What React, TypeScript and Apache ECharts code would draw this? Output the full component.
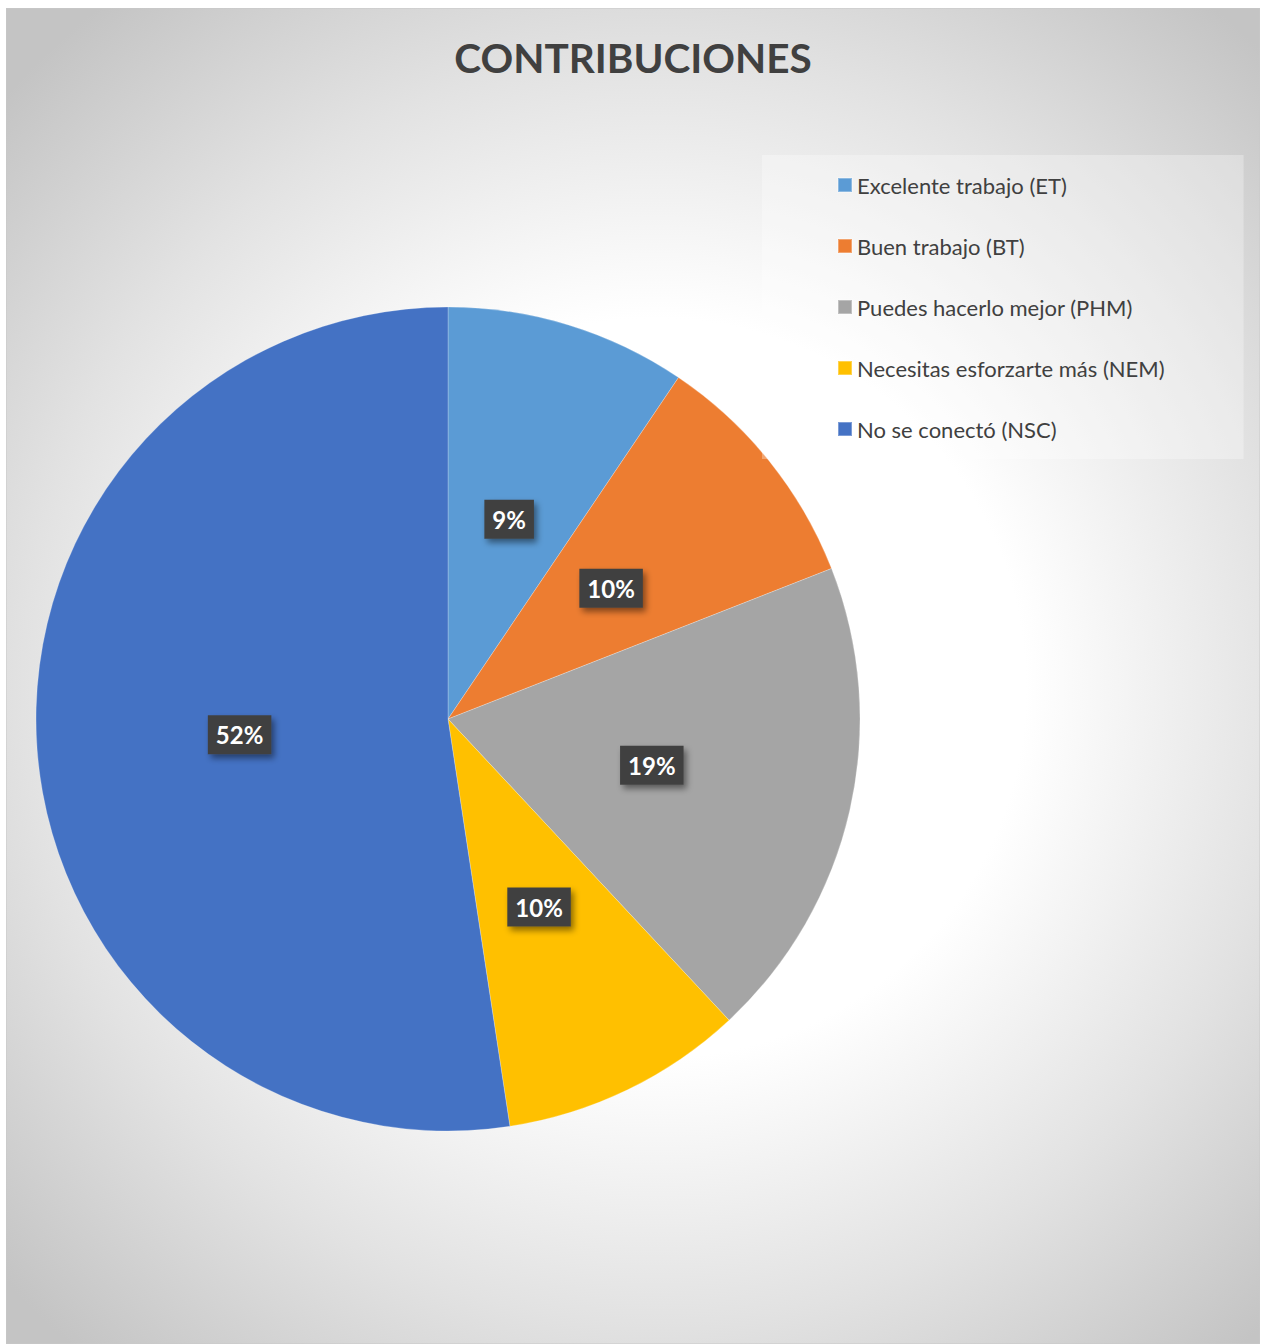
import React, { useEffect, useRef } from "react";
import * as echarts from "echarts";

const titleText = "CONTRIBUCIONES";
const categories = [
  "Excelente trabajo (ET)",
  "Buen trabajo (BT)",
  "Puedes hacerlo mejor (PHM)",
  "Necesitas esforzarte más (NEM)",
  "No se conectó (NSC)",
];
const values = [9.45, 9.6, 19.0, 9.55, 52.4];
const colors = ["#5B9BD5", "#ED7D31", "#A5A5A5", "#FFC000", "#4472C4"];

const W = 1254;
const H = 1336;
const FONT = "Lato, 'Open Sans', sans-serif";

export default function App() {
  const ref = useRef<HTMLDivElement>(null);
  useEffect(() => {
    document.body.style.margin = "0";
    if (!ref.current) return;
    const chart = echarts.init(ref.current, null, { renderer: "svg" });
    chart.setOption({
      animation: false,
      graphic: [
        {
          type: "rect",
          z: -10,
          silent: true,
          shape: { x: 0, y: 0, width: W, height: H },
          style: {
            fill: {
              type: "radial",
              x: 650,
              y: 680,
              r: 880,
              global: true,
              colorStops: [
                { offset: 0, color: "#ffffff" },
                { offset: 0.42, color: "#ffffff" },
                { offset: 0.72, color: "#e2e2e2" },
                { offset: 1, color: "#c4c4c4" },
              ],
            },
            stroke: "#c8c8c8",
            lineWidth: 1,
          },
        },
      ],
      title: {
        text: titleText,
        left: "center",
        top: 29,
        padding: 0,
        textStyle: {
          fontFamily: FONT,
          fontWeight: "bold",
          fontSize: 40.5,
          color: "#404040",
        },
      },
      legend: {
        orient: "vertical",
        left: 756,
        top: 147,
        padding: [19, 79, 19, 75],
        backgroundColor: "rgba(255,255,255,0.3)",
        itemWidth: 14,
        itemHeight: 14,
        itemGap: 39,
        icon: "rect",
        data: categories,
        selectedMode: false,
        textStyle: {
          fontFamily: FONT,
          fontSize: 22,
          lineHeight: 22,
          color: "#404040",
        },
      },
      series: [
        {
          type: "pie",
          center: [442, 711],
          radius: [0, 412],
          startAngle: 90,
          clockwise: true,
          silent: true,
          percentPrecision: 0,
          itemStyle: { borderColor: "rgba(255,255,255,0.3)", borderWidth: 0.8 },
          label: {
            show: true,
            position: "inside",
            formatter: "{d}%",
            fontFamily: FONT,
            fontWeight: "bold",
            fontSize: 24,
            lineHeight: 24,
            color: "#ffffff",
            backgroundColor: "#404040",
            padding: [8, 8, 7, 8],
            shadowColor: "rgba(0,0,0,0.45)",
            shadowBlur: 6,
            shadowOffsetX: 3,
            shadowOffsetY: 4,
          },
          labelLine: { show: false },
          data: categories.map((name, i) => ({
            name,
            value: values[i],
            itemStyle: { color: colors[i] },
          })),
        },
      ],
    });
    return () => chart.dispose();
  }, []);
  return (
    <div
      ref={ref}
      style={{ position: "absolute", left: 6, top: 8, width: W, height: H }}
    />
  );
}
